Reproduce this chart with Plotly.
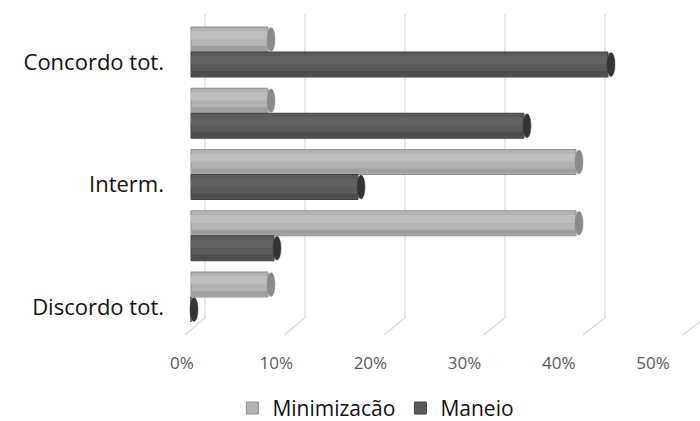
import plotly.graph_objects as go

# ---- data ----
categories = ["Concordo tot.", "Concordo", "Interm.", "Discordo", "Discordo tot."]
shown_labels = ["Concordo tot.", "", "Interm.", "", "Discordo tot."]
minimizacao = [0.077, 0.077, 0.385, 0.385, 0.077]
maneio = [0.417, 0.333, 0.167, 0.083, 0.0]
tick_values = [0.0, 0.1, 0.2, 0.3, 0.4, 0.5]
tick_labels = ["0%", "10%", "20%", "30%", "40%", "50%"]

# name, values, base, highlight, shadow, edge, cap
series = [
    ("Minimizacão", minimizacao, "#b3b3b3", "#bebebe", "#9f9f9f", "#8f8f8f", "#8a8a8a"),
    ("Maneio", maneio, "#5a5a5a", "#626262", "#4c4c4c", "#404040", "#343434"),
]

pos = list(range(len(categories)))
bargap = 0.184
bar_w = (1 - bargap) / 2

fig = go.Figure()
shapes = []

# back gridlines with 3D floor diagonals
for v in tick_values:
    xb = v + 0.014
    xf = 0.995 * v - 0.006
    shapes.append(dict(
        type="path", xref="x", yref="y",
        path=f"M {xb},-0.62 L {xb},4.34 L {xf},4.62",
        line=dict(color="#d9d9d9", width=1.2), layer="below"))

for k, (name, vals, base, hi, sh, edge, capcol) in enumerate(series):
    off = -bar_w if k == 0 else 0.0
    fig.add_trace(go.Bar(
        y=pos, x=vals, orientation="h", name=name,
        offset=off, width=bar_w,
        marker=dict(color=base, line=dict(color=edge, width=1)),
    ))
    # cylinder shading stripes
    fig.add_trace(go.Bar(
        y=pos, x=vals, orientation="h", name=name, showlegend=False, hoverinfo="skip",
        offset=off + 0.07, width=bar_w * 0.32,
        marker=dict(color=hi, line=dict(width=0)),
    ))
    fig.add_trace(go.Bar(
        y=pos, x=vals, orientation="h", name=name, showlegend=False, hoverinfo="skip",
        offset=off + bar_w * 0.76, width=bar_w * 0.2,
        marker=dict(color=sh, line=dict(width=0)),
    ))
    for i, v in enumerate(vals):
        y0 = i + off
        y1 = y0 + bar_w
        shapes.append(dict(
            type="circle", xref="x", yref="y",
            x0=v - 0.001, x1=v + 0.007, y0=y0 + 0.01, y1=y1 - 0.01,
            fillcolor=capcol, line=dict(color=edge, width=0.5), layer="above"))

label_pos = [(-0.009) + 0.942 * v for v in tick_values]

fig.update_layout(
    width=700, height=421,
    margin=dict(l=181, r=0, t=12, b=84),
    plot_bgcolor="white", paper_bgcolor="white",
    barmode="overlay",
    shapes=shapes,
    showlegend=True,
    legend=dict(orientation="h", xref="container", yref="container",
                x=0.537, xanchor="center", y=0.03, yanchor="middle",
                font=dict(family="Open Sans", size=21, color="#111111"),
                itemwidth=30, traceorder="normal"),
    xaxis=dict(range=[-0.01, 0.509], showgrid=False, zeroline=False, showline=False,
               tickmode="array", tickvals=label_pos, ticktext=tick_labels,
               ticklabelstandoff=14,
               tickfont=dict(family="Open Sans", size=17, color="#595959")),
    yaxis=dict(range=[4.653, -0.653], showgrid=False, zeroline=False, showline=False,
               tickmode="array", tickvals=[p + 0.16 for p, l in zip(pos, shown_labels) if l],
               ticktext=[l for l in shown_labels if l],
               ticklabelstandoff=16,
               tickfont=dict(family="Open Sans", size=22, color="#111111")),
)

fig.write_html("out.html")
